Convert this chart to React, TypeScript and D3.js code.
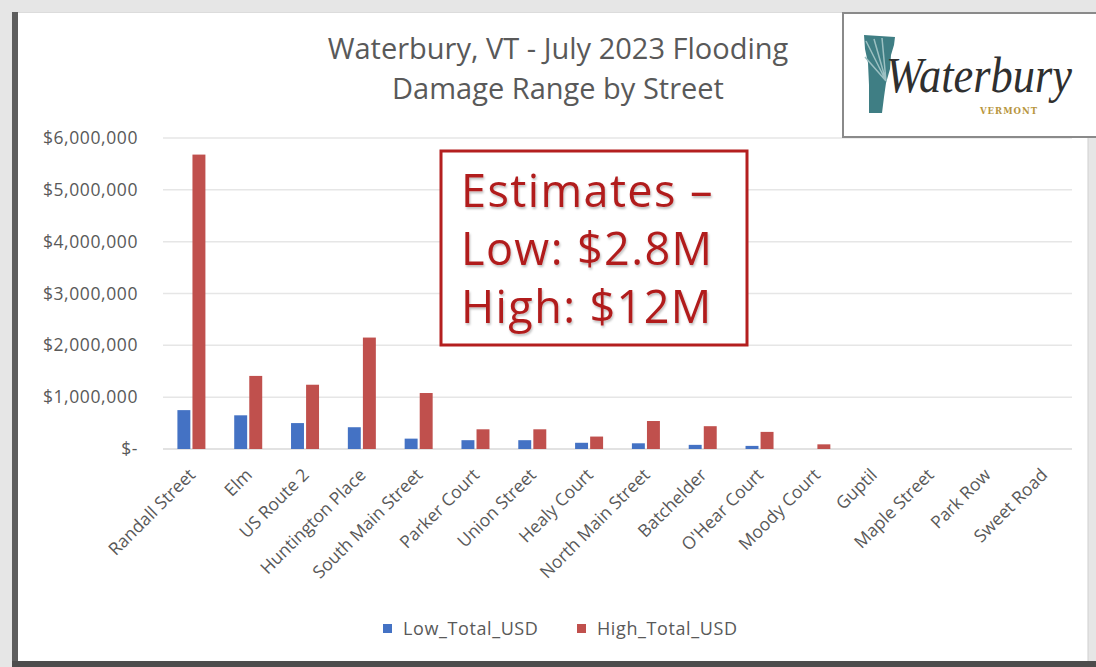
import * as d3 from "d3"

const streets = [
  "Randall Street", "Elm", "US Route 2", "Huntington Place", "South Main Street",
  "Parker Court", "Union Street", "Healy Court", "North Main Street", "Batchelder",
  "O'Hear Court", "Moody Court", "Guptil", "Maple Street", "Park Row", "Sweet Road",
]
const lowTotal = [750000, 650000, 500000, 420000, 200000, 170000, 170000, 120000, 110000, 80000, 60000, 0, 0, 0, 0, 0]
const highTotal = [5680000, 1410000, 1240000, 2150000, 1080000, 380000, 380000, 240000, 540000, 440000, 330000, 90000, 0, 0, 0, 0]
const seriesNames = ["Low_Total_USD", "High_Total_USD"]
const seriesColors = ["#4472c4", "#c0504d"]
const titleLines = ["Waterbury, VT - July 2023 Flooding", "Damage Range by Street"]
const noteLines = ["Estimates –", "Low: $2.8M", "High: $12M"]

const W = 1096
const H = 667
const FONT = "'Open Sans', 'DejaVu Sans', sans-serif"
const GREY = "#595959"

export default function App() {
  const x0 = d3.scaleBand().domain(streets).range([163, 1072])
  const x1 = d3.scaleBand().domain(seriesNames).range([0, 28]).paddingInner(0.14)
  const y = d3.scaleLinear().domain([0, 6000000]).range([449, 138])
  const off = (x0.bandwidth() - 28) / 2
  const fmt = (d: number) => (d === 0 ? "$-" : d3.format("$,.0f")(d))
  const values = [lowTotal, highTotal]

  return (
    <svg width={W} height={H} style={{ position: "absolute", left: 0, top: 0 }} fontFamily={FONT}>
      <defs>
        <filter id="shadow" x="-10%" y="-10%" width="120%" height="130%">
          <feDropShadow dx="1" dy="2" stdDeviation="1.2" floodColor="#000" floodOpacity="0.25" />
        </filter>
      </defs>

      {/* page + panel */}
      <rect x={0} y={0} width={W} height={H} fill="#e6e6e6" />
      <rect x={18} y={12} width={1070} height={650} fill="#fff" />
      <rect x={12} y={12} width={6} height={652} fill="#5e5e5e" />
      <rect x={12} y={661} width={W - 12} height={6} fill="#4d4d4d" />
      <line x1={1088} x2={1088} y1={12} y2={661} stroke="#cfcfcf" />
      <line x1={18} x2={W} y1={12.5} y2={12.5} stroke="#dcdcdc" />

      {/* title */}
      {titleLines.map((t, i) => (
        <text key={t} x={558} y={59 + i * 40} textAnchor="middle" fontSize={29} fill={GREY}>{t}</text>
      ))}

      {/* gridlines + y ticks */}
      {y.ticks(6).map(t => (
        <g key={t}>
          <line x1={163} x2={1072} y1={y(t)} y2={y(t)} stroke={t === 0 ? "#d9d9d9" : "#e6e6e6"} strokeWidth={1.5} />
          <text x={138} y={y(t)} dy="0.35em" textAnchor="end" fontSize={17.5} letterSpacing={0.6} fill={GREY}>{fmt(t)}</text>
        </g>
      ))}

      {/* bars */}
      {streets.map((s, i) => (
        <g key={s} transform={`translate(${x0(s)! + off},0)`}>
          {seriesNames.map((n, k) => {
            const v = values[k][i]
            return (
              <rect key={n} x={x1(n)} y={y(v)} width={x1.bandwidth()} height={y(0) - y(v)} fill={seriesColors[k]} />
            )
          })}
        </g>
      ))}

      {/* x labels */}
      {streets.map(s => (
        <text key={s} transform={`translate(${x0(s)! + x0.bandwidth() / 2 + 5},476) rotate(-45)`}
          textAnchor="end" fontSize={17.5} fill={GREY}>{s}</text>
      ))}

      {/* legend */}
      {seriesNames.map((n, k) => (
        <g key={n} transform={`translate(${[383, 577][k]},624)`}>
          <rect width={9} height={9} fill={seriesColors[k]} />
          <text x={20} y={4.5} dy="0.35em" fontSize={18} letterSpacing={0.6} fill={GREY}>{n}</text>
        </g>
      ))}

      {/* annotation */}
      <rect x={441} y={151} width={306} height={194} fill="#fff" stroke="#b41f1f" strokeWidth={3} />
      <g filter="url(#shadow)">
        {noteLines.map((t, i) => (
          <text key={t} x={461} y={207 + i * 58} fontSize={45} letterSpacing={1.4} fill="#b11e1e">{t}</text>
        ))}
      </g>

      {/* logo */}
      <rect x={843} y={13} width={260} height={124} fill="#fff" stroke="#8a8a8a" strokeWidth={2} />
      <g transform="translate(864,35)">
        <path d="M0,0 L31,2 L30,10 L27,20 L26,34 L22,48 L20,62 L18,78 L5,78 L5,50 L4,28 L1,14 Z" fill="#3f7e84" />
        <path d="M22,46 L2,6 M22,46 L10,4 M22,46 L18,3 M22,46 L1,22" stroke="#9cc0c2" strokeWidth={1.5} />
      </g>
      <text x={886} y={92} fontFamily="'Liberation Serif', serif" fontStyle="italic" fontSize={50}
        fill="#2f2f2f" textLength={186} lengthAdjust="spacingAndGlyphs">Waterbury</text>
      <text x={980} y={114} fontFamily="'DejaVu Serif', serif" fontWeight="bold" fontSize={8.5}
        fill="#b8963e" letterSpacing={1}>VERMONT</text>
    </svg>
  )
}
